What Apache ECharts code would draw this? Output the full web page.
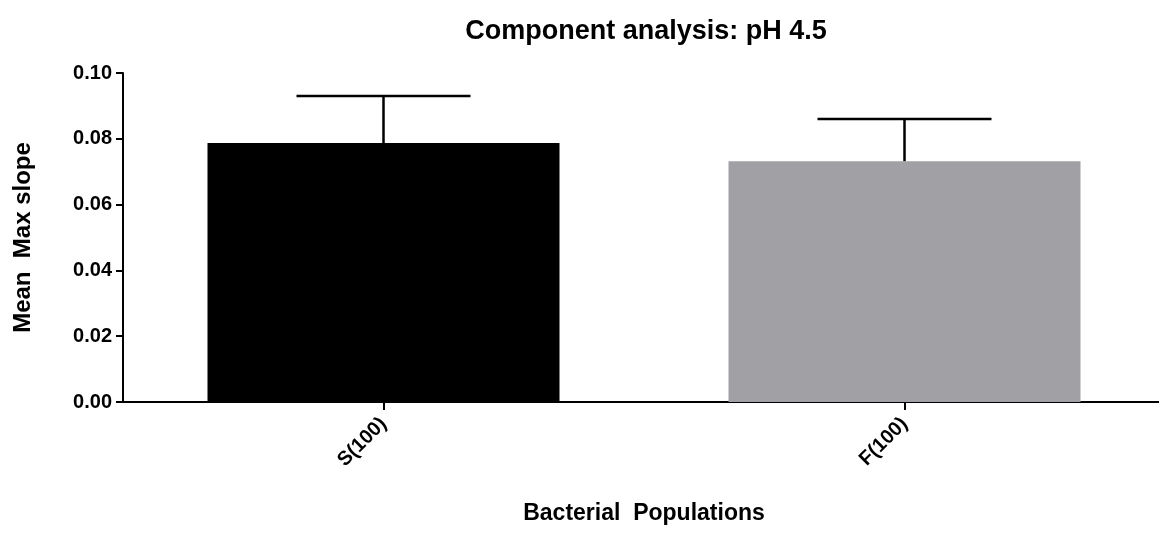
<!DOCTYPE html>
<html>
<head>
<meta charset="utf-8">
<script src="https://cdn.jsdelivr.net/npm/echarts@6/dist/echarts.min.js"></script>
<style>html,body{margin:0;padding:0;background:#fff}#c{width:1159px;height:533px}</style>
</head>
<body>
<div id="c"></div>
<script>
const categories = ["S(100)", "F(100)"];
const means = [0.0787, 0.0732];
const upperErrors = [0.0143, 0.0128];
const barColors = ["#000000", "#a1a0a5"];
const yMin = 0, yMax = 0.10, yStep = 0.02;

const FONT = '"Liberation Sans", Arial, sans-serif';
const chart = echarts.init(document.getElementById('c'), null, {renderer: 'canvas'});

chart.setOption({
  animation: false,
  backgroundColor: '#ffffff',
  title: {
    text: 'Component analysis: pH 4.5',
    left: 641, top: 13, textAlign: 'center',
    textStyle: {fontFamily: FONT, fontWeight: 'bold', fontSize: 27, color: '#000'}
  },
  grid: {left: 123, top: 73, width: 1042, height: 329, containLabel: false, outerBoundsMode: 'none'},
  xAxis: {
    type: 'category',
    data: categories,
    name: 'Bacterial  Populations',
    nameLocation: 'middle',
    nameGap: 100,
    nameTextStyle: {fontFamily: FONT, fontWeight: 'bold', fontSize: 23, color: '#000'},
    axisLine: {lineStyle: {color: '#000', width: 2}},
    axisTick: {show: true, alignWithLabel: true, length: 8, lineStyle: {color: '#000', width: 2}},
    axisLabel: {rotate: 45, margin: 19, fontFamily: FONT, fontWeight: 'bold', fontSize: 20, color: '#000'},
    splitLine: {show: false}
  },
  yAxis: {
    type: 'value',
    min: yMin, max: yMax, interval: yStep,
    name: 'Mean  Max slope',
    nameLocation: 'middle',
    nameGap: 88,
    nameRotate: 90,
    nameTextStyle: {fontFamily: FONT, fontWeight: 'bold', fontSize: 24, color: '#000'},
    axisLine: {show: true, lineStyle: {color: '#000', width: 2}},
    axisTick: {show: true, length: 7, lineStyle: {color: '#000', width: 2}},
    axisLabel: {margin: 11, fontFamily: FONT, fontWeight: 'bold', fontSize: 20, color: '#000',
      formatter: v => v.toFixed(2)},
    splitLine: {show: false}
  },
  series: [
    {
      type: 'bar',
      barWidth: 352,
      data: means.map((v, i) => ({value: v, itemStyle: {color: barColors[i]}})),
      z: 2
    },
    {
      type: 'custom',
      z: 5,
      data: means.map((m, i) => [i, m, m + upperErrors[i]]),
      renderItem: function (params, api) {
        const x = api.value(0);
        const base = api.coord([x, api.value(1)]);
        const top = api.coord([x, api.value(2)]);
        const half = api.size([1, 0])[0] * 0.167;
        const style = {stroke: '#000', lineWidth: 2.5, fill: null};
        return {
          type: 'group',
          children: [
            {type: 'line', shape: {x1: base[0], y1: base[1], x2: top[0], y2: top[1]}, style: style},
            {type: 'line', shape: {x1: top[0] - half, y1: top[1], x2: top[0] + half, y2: top[1]}, style: style}
          ]
        };
      }
    }
  ]
});
</script>
</body>
</html>
